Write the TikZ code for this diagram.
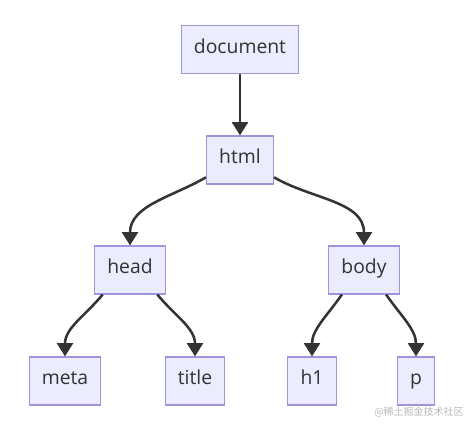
\documentclass[tikz,border=0pt]{standalone}
\usepackage{fontspec}
\setmainfont{Open Sans}
\newfontfamily\cjkfont{Noto Sans CJK SC}
\usetikzlibrary{arrows.meta}

\definecolor{tagfill}{HTML}{ECECFF}
\definecolor{tagline}{HTML}{A193DE}
\definecolor{edgeline}{HTML}{333333}

\begin{document}
\begin{tikzpicture}[>={Triangle[length=10pt, width=12pt]}, x=0.75pt, y=0.75pt,
  tag/.style={draw=tagline, fill=tagfill, line width=0.9pt, minimum height=36pt,
    inner xsep=9.5pt, text height=0.75em, text depth=0.22em,
    font=\fontsize{14.5}{17}\selectfont, text=edgeline},
  edge/.style={->, draw=edgeline, line width=1.9pt}]

\useasboundingbox (0,0) rectangle (476,430);

% Nodes
\node[tag] (document) at (240,380.5) {document};
\node[tag] (html)     at (240,270)   {html};
\node[tag] (head)     at (130,160)   {head};
\node[tag] (body)     at (364,160)   {body};
\node[tag] (meta)     at (65,49)     {meta};
\node[tag] (title)    at (195,49)    {title};
\node[tag] (h1)       at (312,49)    {h1};
\node[tag] (p)        at (416,49)    {p};

% Edges
\draw[edge] (document) -- (html);
\draw[edge] (html.-153) to[out=-150, in=90] (head.north);
\draw[edge] (html.-27) to[out=-30, in=90] (body.north);
\draw[edge] (head.-138) to[out=-130, in=90] (meta.north);
\draw[edge] (head.-42) to[out=-50, in=90] (title.north);
\draw[edge] (body.-132) to[out=-125, in=90] (h1.north);
\draw[edge] (body.-48) to[out=-55, in=90] (p.north);

% Watermark
\node[font=\cjkfont\fontsize{7.5}{9}\selectfont, text=black!28] (mark) at (419,18) {@稀土掘金技术社区};

\end{tikzpicture}
\end{document}
